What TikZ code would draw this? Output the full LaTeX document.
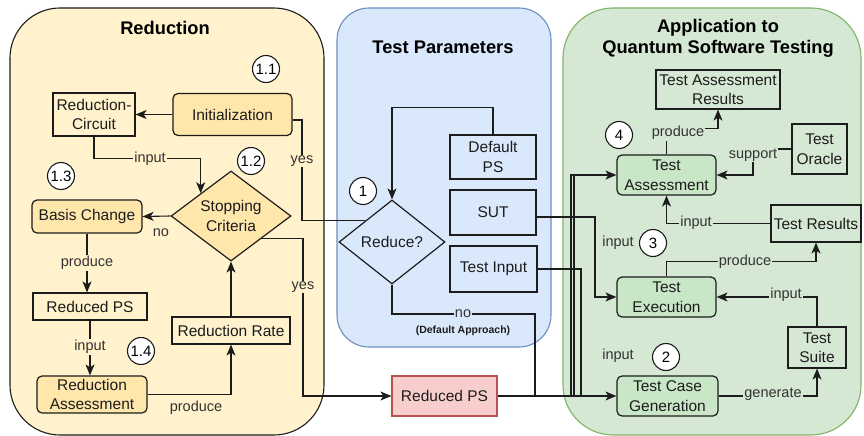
\documentclass[tikz,border=0pt]{standalone}
\usepackage{fontspec}
\setmainfont{Liberation Sans}
\usetikzlibrary{shapes.geometric,arrows.meta,calc}

\definecolor{ylwPanel}{HTML}{FFF2CC}
\definecolor{ylwBox}{HTML}{FFE7AC}
\definecolor{bluPanel}{HTML}{DAE8FC}
\definecolor{bluEdge}{HTML}{6C8EBF}
\definecolor{grnPanel}{HTML}{D5E8D4}
\definecolor{grnEdge}{HTML}{82B366}
\definecolor{grnBox}{HTML}{C9E6C7}
\definecolor{redFill}{HTML}{F8CECC}
\definecolor{redEdge}{HTML}{B85450}
\definecolor{ink}{HTML}{1C1C1C}

\tikzset{
  boxtext/.style={font=\fontsize{15.5pt}{19.5pt}\selectfont, align=center, text=ink},
  plainbox/.style={draw=ink, line width=1.2pt, inner sep=0pt, boxtext},
  softbox/.style={plainbox, rounded corners=5pt},
  decision/.style={diamond, draw=ink, line width=1.2pt, inner sep=0pt},
  lbl/.style={font=\fontsize{14.5pt}{17pt}\selectfont, text=ink!90, inner sep=1pt},
  num/.style={circle, draw=ink, fill=white, line width=1.1pt, minimum size=27pt,
    inner sep=0pt, font=\fontsize{15pt}{15pt}\selectfont},
  title/.style={font=\bfseries\fontsize{18.3pt}{21pt}\selectfont, align=center},
  panel/.style={line width=1.1pt, inner sep=0pt},
  wire/.style={draw=ink, line width=1.1pt},
  arr/.style={wire, -{Stealth[length=11pt,width=9pt,inset=3pt]}}
}

\begin{document}
\begin{tikzpicture}[x=1pt,y=-1pt]
\fill[white] (0,0) rectangle (864,436);
\useasboundingbox (0,0) rectangle (864,436);

% --- the three panels
\node[panel, draw=ink, fill=ylwPanel, rounded corners=50pt,
      minimum width=314pt, minimum height=427pt] (pRed) at (167,221.5) {};
\node[panel, draw=bluEdge, fill=bluPanel, rounded corners=32pt,
      minimum width=214pt, minimum height=339pt] (pPar) at (444,177.5) {};
\node[panel, draw=grnEdge, fill=grnPanel, rounded corners=50pt,
      minimum width=298pt, minimum height=427pt] (pApp) at (712,221.5) {};

\node[title] (tRed) at (165,28) {Reduction};
\node[title] (tPar) at (443,47) {Test Parameters};
\node[title] (tApp) at (718,38) {Application to\\Quantum Software Testing};

% --- reduction loop
\node[softbox, fill=ylwBox, minimum width=119pt, minimum height=42pt] (init) at (232.5,114.5) {Initialization};
\node[plainbox, minimum width=82pt, minimum height=43pt] (rc) at (94,114.5) {Reduction-\\Circuit};
\node[decision, fill=ylwBox, minimum width=120pt, minimum height=90pt] (sc) at (231,216) {};
\node[boxtext] (scText) at (sc) {Stopping\\Criteria};
\node[softbox, fill=ylwBox, minimum width=110pt, minimum height=33pt] (bc) at (87,216.5) {Basis Change};
\node[plainbox, minimum width=114pt, minimum height=27pt] (rps1) at (90,306.5) {Reduced PS};
\node[softbox, fill=ylwBox, minimum width=110pt, minimum height=37pt] (ra) at (92,394.5) {Reduction\\Assessment};
\node[plainbox, minimum width=118pt, minimum height=27pt] (rr) at (231,330.5) {Reduction Rate};

% --- test parameters
\node[plainbox, minimum width=86pt, minimum height=44pt] (dps) at (493,157) {Default\\PS};
\node[plainbox, minimum width=86pt, minimum height=45pt] (sut) at (493,212.5) {SUT};
\node[plainbox, minimum width=87pt, minimum height=46pt] (ti) at (493.5,269) {Test Input};
\node[decision, minimum width=106pt, minimum height=84pt] (rd) at (392,242) {};
\node[boxtext] (rdText) at (rd) {Reduce?};

\node[plainbox, draw=redEdge, fill=redFill, minimum width=105pt, minimum height=40pt] (rps) at (444.5,396) {Reduced PS};

% --- application to testing
\node[plainbox, minimum width=124pt, minimum height=39pt] (tar) at (718,89.5) {Test Assessment\\Results};
\node[softbox, fill=grnBox, minimum width=99pt, minimum height=40pt] (ta) at (666.5,175) {Test\\Assessment};
\node[plainbox, minimum width=55pt, minimum height=50pt] (to) at (819.5,149) {Test\\Oracle};
\node[plainbox, minimum width=90pt, minimum height=37pt] (tr) at (816,223.5) {Test Results};
\node[softbox, fill=grnBox, minimum width=99pt, minimum height=40pt] (te) at (666.5,297) {Test\\Execution};
\node[plainbox, minimum width=58pt, minimum height=41pt] (ts) at (817,347.5) {Test\\Suite};
\node[softbox, fill=grnBox, minimum width=101pt, minimum height=40pt] (tcg) at (667.5,396) {Test Case\\Generation};

% --- connectors inside the reduction loop
\draw[arr] (init.west) -- (rc.east);
\draw[arr] (rc.south) -- ++(0,22) -| (sc.north west);
\draw[arr] (sc.west) -- (bc.east);
\draw[arr] (bc.south) -- (bc.south |- rps1.north);
\draw[arr] (rps1.south) -- (rps1.south |- ra.north);
\draw[arr] (ra.east) -| (rr.south);
\draw[arr] (rr.north) -- (sc.south);
\coordinate (yesLow) at (303,396);
\draw[arr] (sc.south east) -| (yesLow) -- (rps.west);
\coordinate (yesTop) at (302,120);
\draw[wire] (rd.north west) -| (yesTop) -- (yesTop -| init.east);

% --- connectors of the parameters
\draw[arr] (dps.north) -- ++(0,-27) -| (rd.north);
\coordinate (noTurn) at (535,314);
\draw[wire] (rd.south) |- (noTurn) -- (noTurn |- rps.east);
\draw[arr] (rps.east) -- (tcg.west);
\coordinate (taA) at (571,396);
\coordinate (taB) at (574,396);
\draw[arr] (taA) |- (ta.west);
\draw[wire] (taB) -- (taB |- ta.west);
\coordinate (sutBend) at (595,297);
\draw[arr] ([yshift=-4.5pt]sut.east) -| (sutBend) -- (te.west);
\coordinate (tiDrop) at (581,396);
\draw[wire] (ti.east) -| (tiDrop);

% --- connectors of the testing process
\draw[arr] (ta.north) -- ++(0,-26) -| (tar.south);
\coordinate (supBend) at (753,149);
\draw[arr] (to.west) -- (supBend) |- (ta.east);
\draw[arr] (tr.west) -| (ta.south);
\draw[arr] (te.north) -- ++(0,-15) -| (tr.south);
\draw[arr] (ts.north) |- (te.east);
\draw[arr] (tcg.east) -| (ts.south);

% --- edge labels
\node[lbl, fill=ylwPanel] (lIn1) at (150,158.5) {input};
\node[lbl] (lNo1) at (161,233) {no};
\node[lbl, fill=ylwPanel] (lPr1) at (87,263) {produce};
\node[lbl, fill=ylwPanel] (lIn2) at (90,347) {input};
\node[lbl] (lPr2) at (196,408) {produce};
\node[lbl, fill=ylwPanel] (lYes1) at (302,161) {yes};
\node[lbl, fill=ylwPanel] (lYes2) at (303,287) {yes};
\node[lbl, fill=bluPanel] (lNo2) at (463,314) {no};
\node[font=\bfseries\fontsize{10.5pt}{12pt}\selectfont, text=ink] (lDef) at (463,331) {(Default Approach)};
\node[lbl, fill=grnPanel] (lPr3) at (678,133) {produce};
\node[lbl, fill=grnPanel] (lSup) at (753,155) {support};
\node[lbl, fill=grnPanel] (lIn3) at (696,223) {input};
\node[lbl, fill=grnPanel] (lPr4) at (745,262) {produce};
\node[lbl, fill=grnPanel] (lIn4) at (786,295) {input};
\node[lbl, fill=grnPanel] (lGen) at (773,394) {generate};
\node[lbl] (lIn5) at (618,243) {input};
\node[lbl] (lIn6) at (618,356) {input};

% --- step numbers
\node[num] (n11) at (266,69) {1.1};
\node[num] (n12) at (251,161) {1.2};
\node[num] (n13) at (61,176) {1.3};
\node[num] (n14) at (141,351) {1.4};
\node[num] (n1) at (363,191) {1};
\node[num] (n4) at (619,135) {4};
\node[num] (n3) at (653,243) {3};
\node[num] (n2) at (666,357) {2};
\end{tikzpicture}
\end{document}
